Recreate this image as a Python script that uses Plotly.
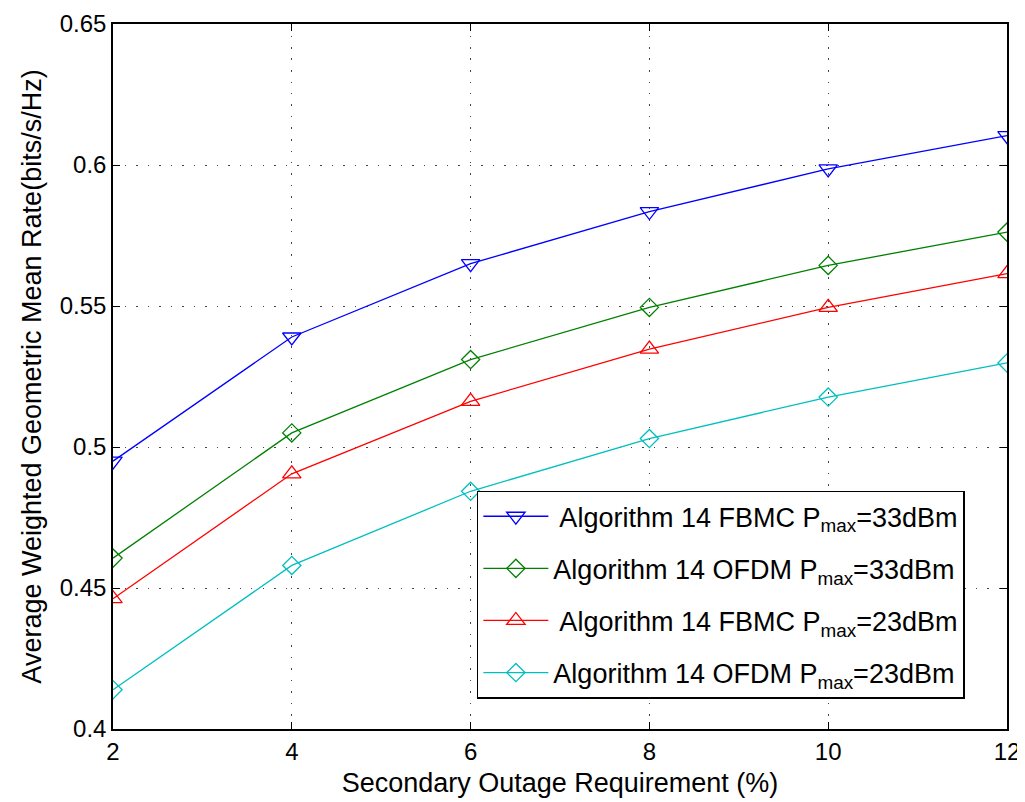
import plotly.graph_objects as go

# Secondary outage requirement (%)
outage = [2, 4, 6, 8, 10, 12]

# Average weighted geometric mean rate (bits/s/Hz)
fbmc_33 = [0.495, 0.539, 0.565, 0.5835, 0.5986, 0.6104]
ofdm_33 = [0.4606, 0.505, 0.531, 0.5495, 0.5644, 0.5762]
fbmc_23 = [0.4462, 0.4905, 0.5162, 0.5347, 0.5495, 0.5615]
ofdm_23 = [0.4139, 0.458, 0.4843, 0.503, 0.5177, 0.5298]

y_ticks = [0.4, 0.45, 0.5, 0.55, 0.6, 0.65]
y_tick_labels = ["0.4", "0.45", "0.5", "0.55", "0.6", "0.65"]

series = [
    (" Algorithm 14 FBMC P<sub>max</sub>=33dBm", fbmc_33, "#0000FF", "triangle-down-open", 16),
    ("Algorithm 14 OFDM P<sub>max</sub>=33dBm", ofdm_33, "#008000", "diamond-open", 14),
    (" Algorithm 14 FBMC P<sub>max</sub>=23dBm", fbmc_23, "#FF0000", "triangle-up-open", 16),
    ("Algorithm 14 OFDM P<sub>max</sub>=23dBm", ofdm_23, "#00BFBF", "diamond-open", 14),
]

fig = go.Figure()
for i, (name, vals, color, sym, size) in enumerate(series):
    fig.add_trace(go.Scatter(
        x=outage, y=vals, name=name, mode="lines+markers",
        legendgroup=f"g{i}",
        line=dict(color=color, width=1.3),
        marker=dict(symbol=sym, size=size, color=color, line=dict(color=color, width=1.3)),
    ))

axis_common = dict(
    showline=True, linecolor="black", linewidth=1.5, mirror="ticks",
    ticks="inside", ticklen=7, tickcolor="black",
    showgrid=True, gridcolor="#444444", griddash="1.5px,10px", gridwidth=1,
    zeroline=False, tickfont=dict(size=24, color="black"),
    ticklabeloverflow="allow", automargin=False,
)

# page has an 8px body margin on the left/top, so the figure is shifted by it
fig.update_layout(
    width=1017, height=794,
    margin=dict(l=105, r=18, t=16, b=73),
    paper_bgcolor="white", plot_bgcolor="white",
    font=dict(family="Liberation Sans, Arial, sans-serif", color="black"),
    xaxis=dict(axis_common, range=[2, 12], tickvals=outage,
               title=dict(text="Secondary Outage Requirement (%)", font=dict(size=27), standoff=10)),
    yaxis=dict(axis_common, range=[0.4, 0.65],
               tickvals=y_ticks, ticktext=y_tick_labels,
               title=dict(text="Average Weighted Geometric Mean Rate(bits/s/Hz)", font=dict(size=27), standoff=10)),
    legend=dict(
        x=0.407, y=0.338, xanchor="left", yanchor="top",
        bgcolor="white", bordercolor="black", borderwidth=1.5,
        font=dict(size=27, color="black"), tracegroupgap=14,
        itemwidth=65,
    ),
    showlegend=True,
)

fig.write_html("out.html")
